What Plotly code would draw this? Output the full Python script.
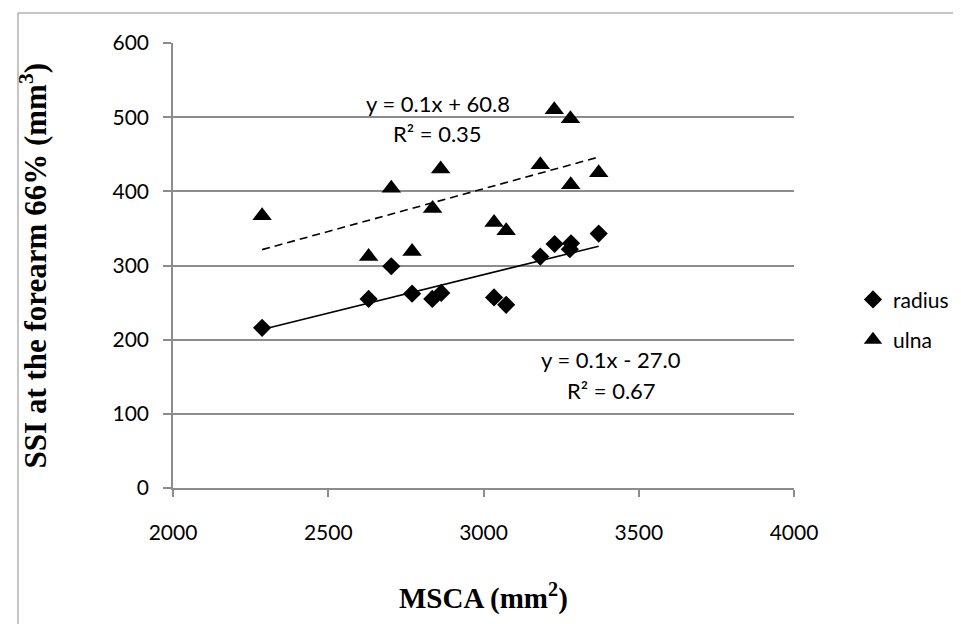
import numpy as np
import plotly.graph_objects as go

# Data
radius_x = [2287, 2630, 2703, 2770, 2835, 2864, 3034, 3073, 3183, 3229, 3278, 3282, 3371]
radius_y = [216, 255, 299, 262, 255, 263, 257, 247, 312, 329, 322, 330, 343]
ulna_x = [2287, 2630, 2703, 2770, 2836, 2862, 3034, 3073, 3183, 3228, 3280, 3281, 3371]
ulna_y = [367, 312, 404, 319, 377, 430, 358, 347, 436, 510, 498, 409, 425]

x_ticks = [2000, 2500, 3000, 3500, 4000]
y_ticks = [0, 100, 200, 300, 400, 500, 600]

eq_ulna = ["y = 0.1x + 60.8", "R² = 0.35"]
eq_radius = ["y = 0.1x - 27.0", "R² = 0.67"]

FONT = "Lato"
SERIF = "Liberation Serif"
GRID = "#8c8c8c"

fig = go.Figure()

# trend lines (least squares)
for xs, ys, dash in [(radius_x, radius_y, "solid"), (ulna_x, ulna_y, "8px,5px")]:
    a, b = np.polyfit(xs, ys, 1)
    lx = [min(xs), max(xs)]
    fig.add_trace(go.Scatter(x=lx, y=[a * v + b for v in lx], mode="lines",
                             line=dict(color="black", width=1.6, dash=dash),
                             showlegend=False, hoverinfo="skip"))

fig.add_trace(go.Scatter(x=radius_x, y=radius_y, mode="markers", name="radius",
                         legendgroup="r",
                         marker=dict(symbol="diamond", size=14, color="black")))
fig.add_trace(go.Scatter(x=ulna_x, y=ulna_y, mode="markers", name="ulna",
                         legendgroup="u",
                         marker=dict(symbol="triangle-up", size=17, color="black")))

annos = [
    dict(x=2853, y=519, text=eq_ulna[0]),
    dict(x=2853, y=478, text=eq_ulna[1]),
    dict(x=3412, y=173, text=eq_radius[0]),
    dict(x=3412, y=131, text=eq_radius[1]),
]
for a in annos:
    fig.add_annotation(x=a["x"], y=a["y"], text=a["text"], showarrow=False,
                       xref="x", yref="y", xanchor="center", yanchor="middle",
                       font=dict(family=FONT, size=22, color="black"))

fig.add_annotation(x=-0.224, y=0.5, xref="paper", yref="paper",
                   text="<b>SSI at the forearm 66% (mm<sup>3</sup>)</b>",
                   textangle=-90, showarrow=False, xanchor="center", yanchor="middle",
                   font=dict(family=SERIF, size=31, color="black"))
fig.add_annotation(x=0.5, y=-0.2427, xref="paper", yref="paper",
                   text="<b>MSCA (mm<sup>2</sup>)</b>",
                   showarrow=False, xanchor="center", yanchor="middle",
                   font=dict(family=SERIF, size=29, color="black"))

# outer chart frame (top and left edges visible)
fig.add_shape(type="line", xref="paper", yref="paper", x0=-0.2496, x1=1.3, y0=1.0674, y1=1.0674,
              line=dict(color=GRID, width=1))
fig.add_shape(type="line", xref="paper", yref="paper", x0=-0.2496, x1=-0.2496, y0=1.0674, y1=-0.4,
              line=dict(color=GRID, width=1))

fig.update_xaxes(range=[2000, 4000], tickvals=x_ticks, ticktext=[str(v) for v in x_ticks],
                 showgrid=False, showline=True, linecolor=GRID, linewidth=1.5,
                 ticks="outside", ticklen=7, tickcolor=GRID, tickwidth=1.5,
                 zeroline=False, ticklabelstandoff=18,
                 tickfont=dict(family=FONT, size=21, color="black"))
fig.update_yaxes(range=[0, 600], tickvals=y_ticks, ticktext=[str(v) for v in y_ticks],
                 showgrid=True, gridcolor=GRID, gridwidth=1.5,
                 showline=True, linecolor=GRID, linewidth=1.5,
                 ticks="outside", ticklen=8, tickcolor=GRID, tickwidth=1.5,
                 zeroline=False, ticklabelstandoff=10,
                 tickfont=dict(family=FONT, size=21, color="black"))

fig.update_layout(
    width=961, height=624,
    margin=dict(l=165, r=175, t=35, b=144),
    plot_bgcolor="white", paper_bgcolor="white",
    legend=dict(x=1.095, y=0.378, xanchor="left", yanchor="middle",
                font=dict(family=FONT, size=21, color="black"),
                tracegroupgap=10, itemwidth=30, bgcolor="rgba(0,0,0,0)"),
    showlegend=True,
)

fig.write_html("out.html")
